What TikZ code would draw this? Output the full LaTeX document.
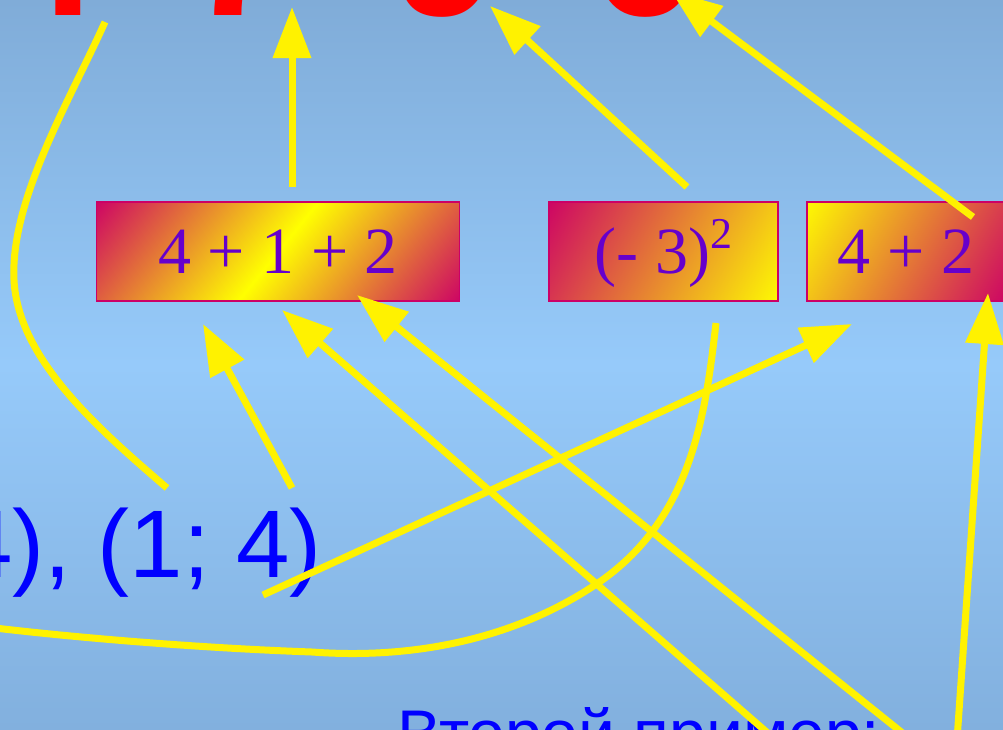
\documentclass[tikz,border=0pt]{standalone}
\usepackage{fontspec}
\setmainfont{Liberation Serif}
\newfontfamily\sansfont{Liberation Sans}
\usetikzlibrary{arrows.meta}
\definecolor{bgtop}{RGB}{128,172,216}
\definecolor{bgmid}{RGB}{150,202,250}
\definecolor{bgbot}{RGB}{130,176,222}
\definecolor{crim}{RGB}{204,0,102}
\definecolor{purp}{RGB}{102,0,204}
\pgfdeclareverticalshading{glowmid}{100bp}{color(0bp)=(crim); color(14bp)=(crim); color(50bp)=(yellow); color(86bp)=(crim); color(100bp)=(crim)}
\pgfdeclareverticalshading{glowup}{100bp}{color(0bp)=(yellow); color(14bp)=(yellow); color(86bp)=(crim); color(100bp)=(crim)}
\pgfdeclareverticalshading{glowdown}{100bp}{color(0bp)=(crim); color(14bp)=(crim); color(86bp)=(yellow); color(100bp)=(yellow)}

\begin{document}
\begin{tikzpicture}[
    x=1pt, y=-1pt,
    box/.style={rectangle, draw=crim, line width=1.5pt, inner sep=0pt,
      minimum height=99pt, text height=44pt, text depth=0pt, text=purp,
      font=\fontsize{66}{66}\selectfont},
    digit/.style={inner sep=0pt, anchor=base, text=red,
      font=\sansfont\bfseries\fontsize{190}{190}\selectfont},
    phrase/.style={inner sep=0pt, anchor=base west, text=blue},
    arr/.style={-{Triangle[length=51pt, width=37pt]}, line width=7pt, draw=yellow},
    link/.style={line width=7pt, draw=yellow}
  ]
  \useasboundingbox (0,0) rectangle (1003,729);
  \clip (0,0) rectangle (1003,729);
  \shade[top color=bgtop, bottom color=bgbot, middle color=bgmid] (0,0) rectangle (1003,729);

  \node[digit] (n4) at (46,15) {4};
  \node[digit] (n7) at (240,15) {7};
  \node[digit] (n9) at (445,15) {9};
  \node[digit] (n6) at (643,15) {6};

  \node[box, minimum width=363pt, shading=glowmid, shading angle=51] (sum1) at (278,251.5) {4 + 1 + 2};
  \node[box, minimum width=229pt, shading=glowup, shading angle=60] (sq) at (663.5,251.5)
    {(- 3)\raisebox{25pt}{\fontsize{44}{44}\selectfont 2}};
  \node[box, minimum width=198pt, shading=glowdown, shading angle=60] (sum2) at (906,251.5) {4 + 2};

  \node[phrase, font=\sansfont\fontsize{96}{96}\selectfont] (pairs) at (-41,577) {4), (1; 4)};
  \node[phrase, font=\sansfont\fontsize{66}{66}\selectfont] (next) at (397,756) {Второй пример:};

  \coordinate (u7) at (292,187);  \coordinate (t7) at (292,7);
  \coordinate (u9) at (687,187);  \coordinate (t9) at (490,6);
  \coordinate (u6) at (973,217);  \coordinate (t6) at (671,-9);
  \coordinate (p1) at (292,488);  \coordinate (h1) at (203,324);
  \coordinate (q1) at (770,735);  \coordinate (h2) at (282,310);
  \coordinate (q2) at (905,735);  \coordinate (h3) at (357,295);
  \coordinate (p2) at (263,595);  \coordinate (h4) at (852,324);
  \coordinate (q3) at (957,740);  \coordinate (h5) at (988,293);
  \coordinate (c1a) at (105,22);  \coordinate (c1b) at (167,488);
  \coordinate (c2a) at (716,323); \coordinate (c2b) at (-5,628);

  \draw[link] (c1a) .. controls (70,100) and (10,200) .. (14,280)
    .. controls (18,360) and (100,430) .. (c1b);
  \draw[link] (c2a) .. controls (705,420) and (690,520) .. (598,583)
    .. controls (520,636) and (420,660) .. (312,652)
    .. controls (200,648) and (80,638) .. (c2b);

  \draw[arr] (u7) -- (t7);
  \draw[arr] (u9) -- (t9);
  \draw[arr] (u6) -- (t6);
  \draw[arr] (p1) -- (h1);
  \draw[arr] (q1) -- (h2);
  \draw[arr] (q2) -- (h3);
  \draw[arr] (p2) -- (h4);
  \draw[arr] (q3) -- (h5);
\end{tikzpicture}
\end{document}
